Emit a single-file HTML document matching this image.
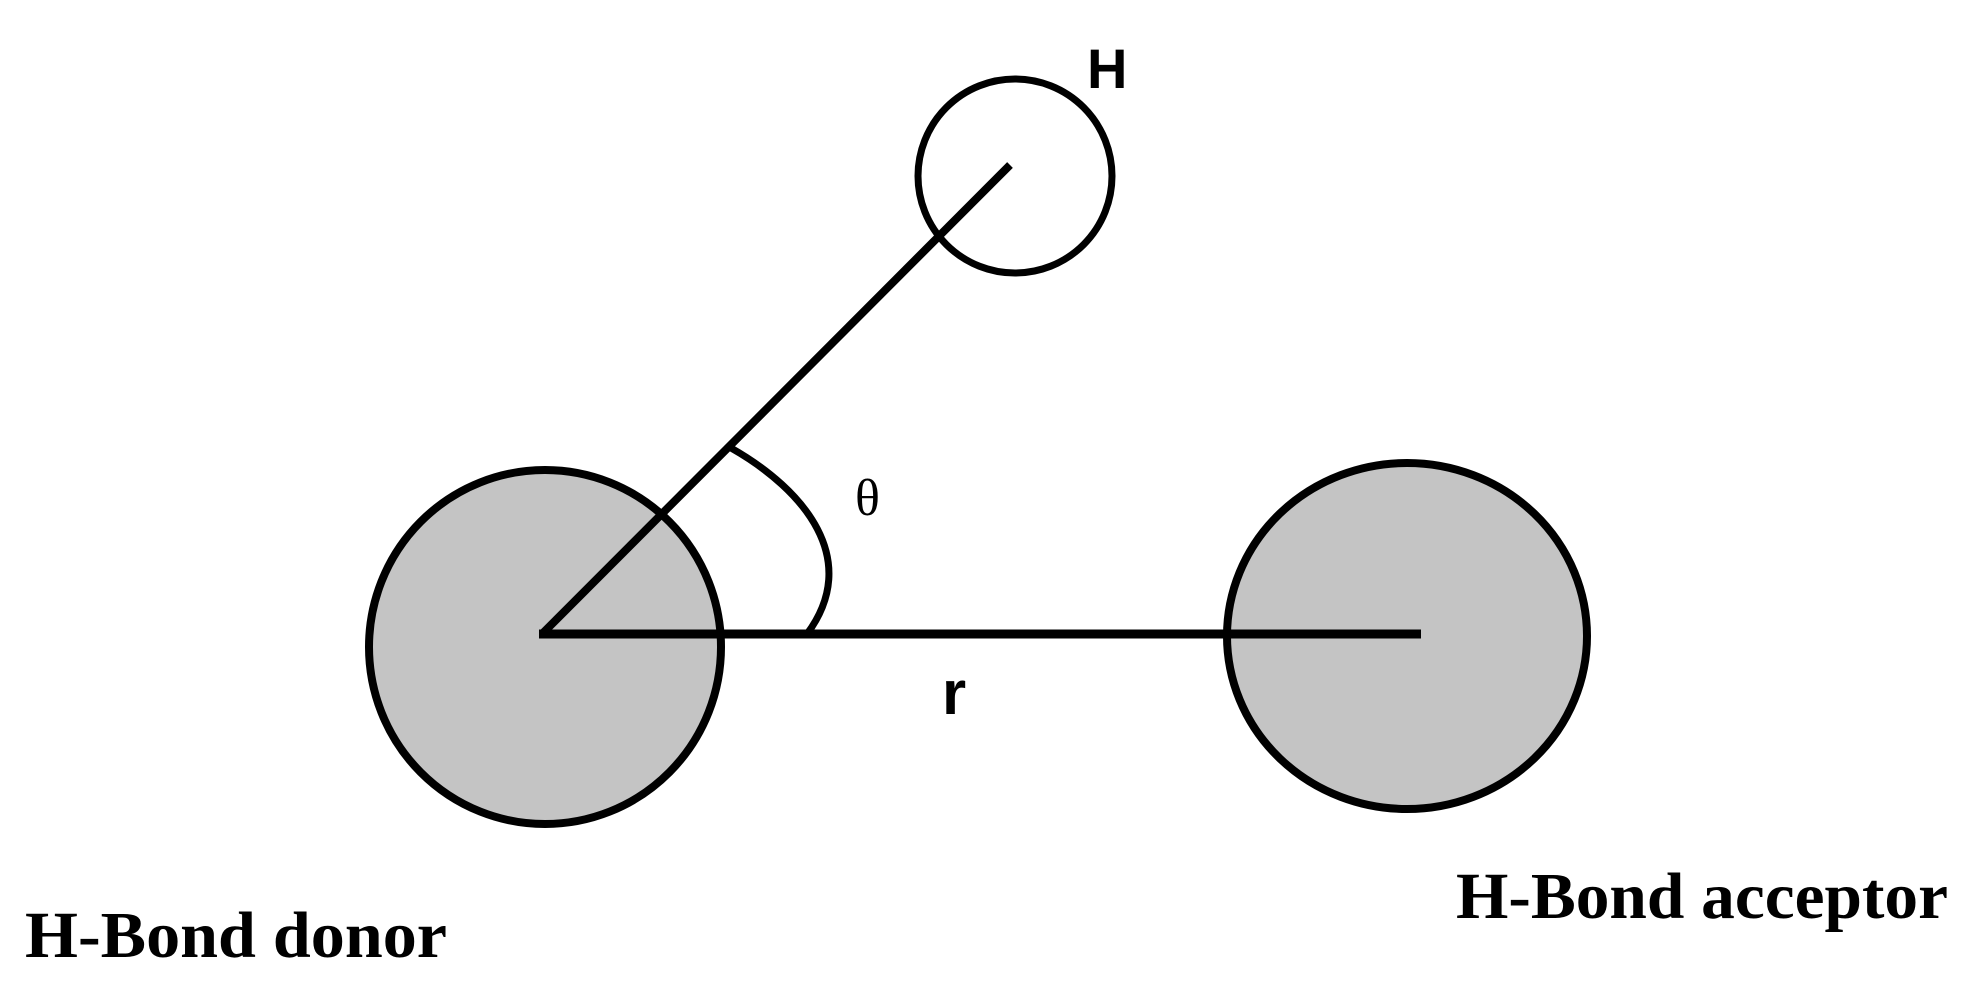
<!DOCTYPE html>
<html><head><style>html,body{margin:0;padding:0;background:#fff;}</style></head>
<body>
<svg width="1977" height="993" viewBox="0 0 1977 993" xmlns="http://www.w3.org/2000/svg">
<rect width="1977" height="993" fill="#fff"/>
<ellipse cx="545" cy="647" rx="176" ry="177" fill="#c4c4c4" stroke="#000" stroke-width="8"/>
<ellipse cx="1407" cy="636" rx="180" ry="173" fill="#c4c4c4" stroke="#000" stroke-width="8"/>
<ellipse cx="1015" cy="176" rx="97" ry="97" fill="none" stroke="#000" stroke-width="7"/>
<line x1="542" y1="634" x2="1010" y2="165" stroke="#000" stroke-width="8"/>
<line x1="539" y1="634" x2="1421" y2="634" stroke="#000" stroke-width="9"/>
<path d="M731 448 C805 490, 862 560, 807 634" fill="none" stroke="#000" stroke-width="7"/>
<text x="855" y="515" font-family="Liberation Serif, serif" font-size="52">θ</text>
<text x="1087" y="88" font-family="Liberation Sans, sans-serif" font-weight="bold" font-size="56">H</text>
<text x="942" y="714" font-family="Liberation Sans, sans-serif" font-weight="bold" font-size="62">r</text>
<text x="25" y="957" font-family="Liberation Serif, serif" font-weight="bold" font-size="66" textLength="422" lengthAdjust="spacingAndGlyphs">H-Bond donor</text>
<text x="1456" y="918" font-family="Liberation Serif, serif" font-weight="bold" font-size="66" textLength="492" lengthAdjust="spacingAndGlyphs">H-Bond acceptor</text>
</svg>
</body></html>
